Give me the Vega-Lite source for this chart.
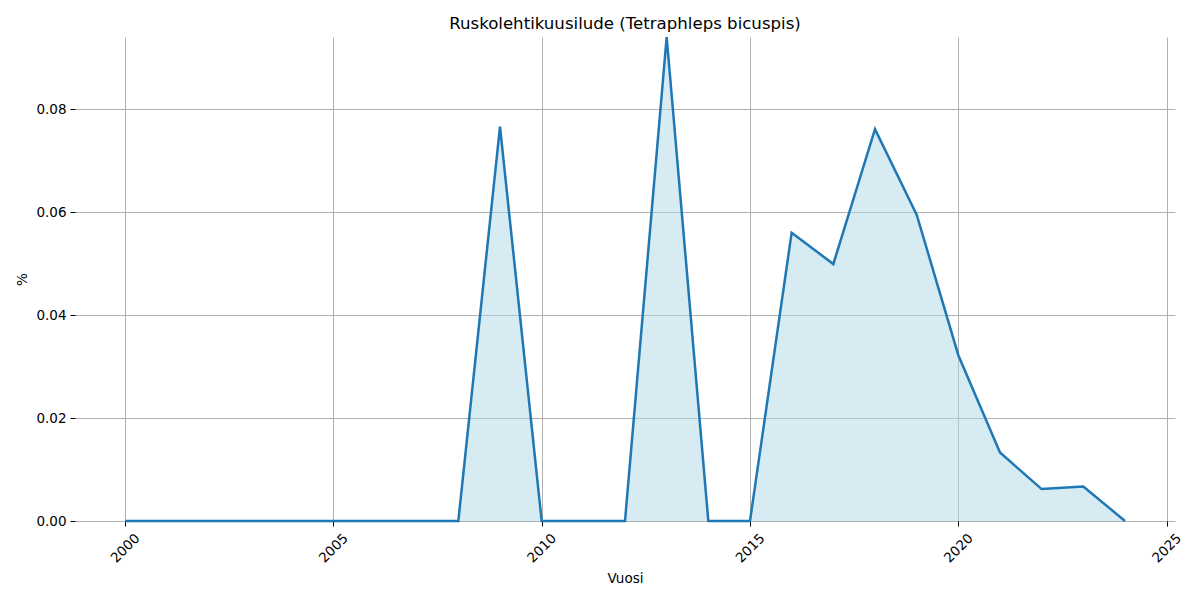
{
  "$schema": "https://vega.github.io/schema/vega-lite/v6.json",
  "width": 1100,
  "height": 484,
  "autosize": {"type": "none"},
  "padding": {"left": 75, "top": 37, "right": 25, "bottom": 79},
  "background": "white",
  "config": {
    "view": {"stroke": null},
    "font": "DejaVu Sans",
    "axis": {
      "labelFont": "DejaVu Sans",
      "titleFont": "DejaVu Sans",
      "labelFontSize": 13.5,
      "titleFontSize": 13.5,
      "titleFontWeight": "normal",
      "labelColor": "black",
      "titleColor": "black",
      "domain": false,
      "grid": true,
      "gridColor": "#b0b0b0",
      "gridWidth": 1,
      "tickColor": "black",
      "tickSize": 5,
      "tickWidth": 1
    }
  },
  "title": {
    "text": "Ruskolehtikuusilude (Tetraphleps bicuspis)",
    "fontSize": 16.6,
    "fontWeight": "normal",
    "font": "DejaVu Sans",
    "color": "black",
    "anchor": "middle",
    "offset": -1
  },
  "data": {
    "values": [
      {"Vuosi": 2000, "v": 0},
      {"Vuosi": 2001, "v": 0},
      {"Vuosi": 2002, "v": 0},
      {"Vuosi": 2003, "v": 0},
      {"Vuosi": 2004, "v": 0},
      {"Vuosi": 2005, "v": 0},
      {"Vuosi": 2006, "v": 0},
      {"Vuosi": 2007, "v": 0},
      {"Vuosi": 2008, "v": 0},
      {"Vuosi": 2009, "v": 0.0766},
      {"Vuosi": 2010, "v": 0},
      {"Vuosi": 2011, "v": 0},
      {"Vuosi": 2012, "v": 0},
      {"Vuosi": 2013, "v": 0.094},
      {"Vuosi": 2014, "v": 0},
      {"Vuosi": 2015, "v": 0},
      {"Vuosi": 2016, "v": 0.056},
      {"Vuosi": 2017, "v": 0.0499},
      {"Vuosi": 2018, "v": 0.0761},
      {"Vuosi": 2019, "v": 0.0595},
      {"Vuosi": 2020, "v": 0.0322},
      {"Vuosi": 2021, "v": 0.0133},
      {"Vuosi": 2022, "v": 0.0062},
      {"Vuosi": 2023, "v": 0.0067},
      {"Vuosi": 2024, "v": 0}
    ]
  },
  "encoding": {
    "x": {
      "field": "Vuosi",
      "type": "quantitative",
      "scale": {"domain": [1998.8, 2025.2], "nice": false, "zero": false},
      "axis": {
        "title": "Vuosi",
        "values": [2000, 2005, 2010, 2015, 2020, 2025],
        "format": "d",
        "labelAngle": -45,
        "labelAlign": "center",
        "labelBaseline": "middle",
        "labelPadding": 22,
        "titlePadding": 7
      }
    },
    "y": {
      "field": "v",
      "type": "quantitative",
      "scale": {"domain": [0, 0.094], "nice": false},
      "axis": {
        "title": "%",
        "values": [0, 0.02, 0.04, 0.06, 0.08],
        "format": ".2f",
        "labelPadding": 4,
        "titlePadding": 6
      }
    }
  },
  "layer": [
    {"mark": {"type": "area", "color": "#add8e6", "opacity": 0.5}},
    {"mark": {"type": "line", "color": "#1f77b4", "strokeWidth": 2.5}}
  ]
}
